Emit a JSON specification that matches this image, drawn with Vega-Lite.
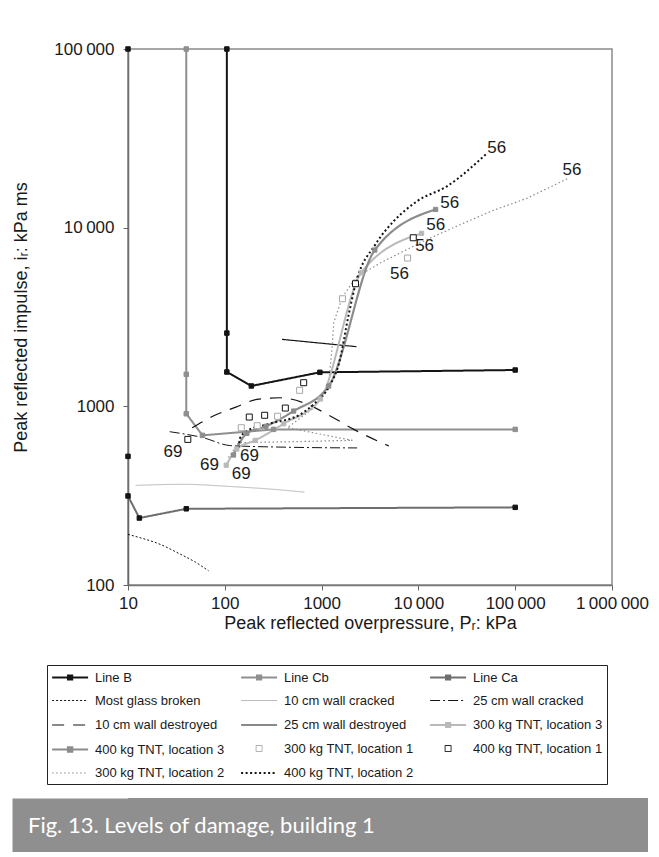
{
  "$schema": "https://vega.github.io/schema/vega-lite/v6.json",
  "background": "white",
  "padding": {"left": -15, "top": 39, "right": 0, "bottom": 0},
  "spacing": 165,
  "config": {"view": {"stroke": null}, "font": "Liberation Sans"},
  "params": [
    {"name": "lgDom", "value": ["Line B","Line Cb","Line Ca","Most glass broken","10 cm wall cracked","25 cm wall cracked","10 cm wall destroyed","25 cm wall destroyed","300 kg TNT, location 3","400 kg TNT, location 3","300 kg TNT, location 1","400 kg TNT, location 1","300 kg TNT, location 2","400 kg TNT, location 2"]},
    {"name": "lgShape", "value": ["M-0.84,0H4.3M1.43,-0.3H2.03V0.3H1.43Z","M-0.84,0H4.3M1.43,-0.3H2.03V0.3H1.43Z","M-0.84,0H4.3M1.43,-0.3H2.03V0.3H1.43Z","M-0.84,0H4.3","M-0.84,0H4.3","M-0.84,0H4.3","M-0.84,0H4.3","M-0.84,0H4.3","M-0.84,0H4.3M1.43,-0.3H2.03V0.3H1.43Z","M-0.84,0H4.3M1.43,-0.3H2.03V0.3H1.43Z","M1.3,-0.43H2.16V0.43H1.3Z","M1.3,-0.43H2.16V0.43H1.3Z","M-0.84,0H4.3","M-0.84,0H4.3"]},
    {"name": "lgFill", "value": ["#141414","#8f8f8f","#141414","transparent","transparent","transparent","transparent","transparent","#b9b9b9","#8c8c8c","white","white","transparent","transparent"]},
    {"name": "lgStroke", "value": ["#141414","#8f8f8f","#6e6e6e","#141414","#b5b5b5","#141414","#141414","#141414","#b9b9b9","#8c8c8c","#aaaaaa","#141414","#8a8a8a","#141414"]},
    {"name": "lgDash", "value": [[1,0],[1,0],[1,0],[2,2],[1,0],[13,3,2,3],[11,13],[1,0],[1,0],[1,0],[1,0],[1,0],[1.5,3],[2,2.5]]},
    {"name": "lgWidth", "value": [2,2,2,1,1,1,1.2,1.5,2,2,1,1,1,1.2]}
  ],
  "vconcat": [
    {
      "width": 484,
      "height": 536,
      "view": {"stroke": "#8a8a8a", "strokeWidth": 1.5},
      "data": {"values": [
        {"series":"Line B","seq":1,"x":105,"y":100000},
        {"series":"Line B","seq":2,"x":105,"y":2570},
        {"series":"Line B","seq":3,"x":105,"y":1556},
        {"series":"Line B","seq":4,"x":188,"y":1300},
        {"series":"Line B","seq":5,"x":960,"y":1550},
        {"series":"Line B","seq":6,"x":100000,"y":1597},
        {"series":"Line Cb","seq":1,"x":40,"y":100000},
        {"series":"Line Cb","seq":2,"x":40,"y":1511},
        {"series":"Line Cb","seq":3,"x":40,"y":909},
        {"series":"Line Cb","seq":4,"x":58.8,"y":688},
        {"series":"Line Cb","seq":5,"x":319,"y":743},
        {"series":"Line Cb","seq":6,"x":100000,"y":743},
        {"series":"Line Ca","seq":1,"x":10,"y":100000},
        {"series":"Line Ca","seq":2,"x":10,"y":525},
        {"series":"Line Ca","seq":3,"x":10,"y":315},
        {"series":"Line Ca","seq":4,"x":13.1,"y":237},
        {"series":"Line Ca","seq":5,"x":40,"y":267},
        {"series":"Line Ca","seq":6,"x":100000,"y":272},
        {"series":"Most glass broken","seq":1,"x":10,"y":192},
        {"series":"Most glass broken","seq":2,"x":13.3,"y":184},
        {"series":"Most glass broken","seq":3,"x":21.4,"y":169},
        {"series":"Most glass broken","seq":4,"x":34.5,"y":149},
        {"series":"Most glass broken","seq":5,"x":50,"y":134},
        {"series":"Most glass broken","seq":6,"x":68,"y":120},
        {"series":"10 cm wall cracked","seq":1,"x":12,"y":361},
        {"series":"10 cm wall cracked","seq":2,"x":37,"y":366},
        {"series":"10 cm wall cracked","seq":3,"x":123,"y":355},
        {"series":"10 cm wall cracked","seq":4,"x":300,"y":344},
        {"series":"10 cm wall cracked","seq":5,"x":664,"y":331},
        {"series":"25 cm wall cracked","seq":1,"x":27,"y":721},
        {"series":"25 cm wall cracked","seq":2,"x":60,"y":667},
        {"series":"25 cm wall cracked","seq":3,"x":114,"y":603},
        {"series":"25 cm wall cracked","seq":4,"x":400,"y":591},
        {"series":"25 cm wall cracked","seq":5,"x":2330,"y":585},
        {"series":"10 cm wall destroyed","seq":1,"x":46,"y":759},
        {"series":"10 cm wall destroyed","seq":2,"x":76,"y":883},
        {"series":"10 cm wall destroyed","seq":3,"x":130,"y":990},
        {"series":"10 cm wall destroyed","seq":4,"x":215,"y":1094},
        {"series":"10 cm wall destroyed","seq":5,"x":374,"y":1117},
        {"series":"10 cm wall destroyed","seq":6,"x":653,"y":1047},
        {"series":"10 cm wall destroyed","seq":7,"x":1200,"y":890},
        {"series":"10 cm wall destroyed","seq":8,"x":2150,"y":743},
        {"series":"10 cm wall destroyed","seq":9,"x":4950,"y":600},
        {"series":"25 cm wall destroyed","seq":1,"x":390,"y":2371},
        {"series":"25 cm wall destroyed","seq":2,"x":2290,"y":2157},
        {"series":"300 kg TNT, location 3","seq":1,"x":103.4,"y":468},
        {"series":"300 kg TNT, location 3","seq":2,"x":133,"y":577},
        {"series":"300 kg TNT, location 3","seq":3,"x":206,"y":645},
        {"series":"300 kg TNT, location 3","seq":4,"x":405,"y":799},
        {"series":"300 kg TNT, location 3","seq":5,"x":972,"y":1099},
        {"series":"300 kg TNT, location 3","seq":6,"x":2565,"y":5595},
        {"series":"300 kg TNT, location 3","seq":7,"x":10790,"y":9290},
        {"series":"400 kg TNT, location 3","seq":1,"x":123,"y":534},
        {"series":"400 kg TNT, location 3","seq":2,"x":169,"y":706},
        {"series":"400 kg TNT, location 3","seq":3,"x":266,"y":773},
        {"series":"400 kg TNT, location 3","seq":4,"x":514,"y":941},
        {"series":"400 kg TNT, location 3","seq":5,"x":1184,"y":1299},
        {"series":"400 kg TNT, location 3","seq":6,"x":3545,"y":7495},
        {"series":"400 kg TNT, location 3","seq":7,"x":15070,"y":12650},
        {"series":"300 kg TNT, location 1","seq":1,"x":148,"y":759},
        {"series":"300 kg TNT, location 1","seq":2,"x":216,"y":779},
        {"series":"300 kg TNT, location 1","seq":3,"x":351,"y":880},
        {"series":"300 kg TNT, location 1","seq":4,"x":593,"y":1229},
        {"series":"300 kg TNT, location 1","seq":5,"x":1642,"y":4000},
        {"series":"300 kg TNT, location 1","seq":6,"x":7730,"y":6760},
        {"series":"400 kg TNT, location 1","seq":1,"x":41.5,"y":653},
        {"series":"400 kg TNT, location 1","seq":2,"x":179,"y":871},
        {"series":"400 kg TNT, location 1","seq":3,"x":258,"y":891},
        {"series":"400 kg TNT, location 1","seq":4,"x":422,"y":978},
        {"series":"400 kg TNT, location 1","seq":5,"x":653,"y":1356},
        {"series":"400 kg TNT, location 1","seq":6,"x":2239,"y":4855},
        {"series":"400 kg TNT, location 1","seq":7,"x":8850,"y":8780},
        {"series":"300 kg TNT, location 2","seq":1,"x":109.2,"y":516},
        {"series":"300 kg TNT, location 2","seq":2,"x":138.6,"y":626},
        {"series":"300 kg TNT, location 2","seq":3,"x":514,"y":634},
        {"series":"300 kg TNT, location 2","seq":4,"x":2084,"y":645},
        {"series":"300 kg TNT, location 2","seq":5,"x":443,"y":759},
        {"series":"300 kg TNT, location 2","seq":6,"x":803,"y":966},
        {"series":"300 kg TNT, location 2","seq":7,"x":1175,"y":1300},
        {"series":"300 kg TNT, location 2","seq":8,"x":1284,"y":2128},
        {"series":"300 kg TNT, location 2","seq":9,"x":1334,"y":2937},
        {"series":"300 kg TNT, location 2","seq":10,"x":1630,"y":4053},
        {"series":"300 kg TNT, location 2","seq":11,"x":2239,"y":5245},
        {"series":"300 kg TNT, location 2","seq":12,"x":4064,"y":6364},
        {"series":"300 kg TNT, location 2","seq":13,"x":7079,"y":7396},
        {"series":"300 kg TNT, location 2","seq":14,"x":12360,"y":8602},
        {"series":"300 kg TNT, location 2","seq":15,"x":27350,"y":10430},
        {"series":"300 kg TNT, location 2","seq":16,"x":59570,"y":12500},
        {"series":"300 kg TNT, location 2","seq":17,"x":131800,"y":14590},
        {"series":"300 kg TNT, location 2","seq":18,"x":361400,"y":19020},
        {"series":"400 kg TNT, location 2","seq":1,"x":138.6,"y":587},
        {"series":"400 kg TNT, location 2","seq":2,"x":144.3,"y":667},
        {"series":"400 kg TNT, location 2","seq":3,"x":169,"y":727},
        {"series":"400 kg TNT, location 2","seq":4,"x":273,"y":793},
        {"series":"400 kg TNT, location 2","seq":5,"x":604,"y":902},
        {"series":"400 kg TNT, location 2","seq":6,"x":828,"y":1026},
        {"series":"400 kg TNT, location 2","seq":7,"x":1233,"y":1328},
        {"series":"400 kg TNT, location 2","seq":8,"x":1503,"y":1718},
        {"series":"400 kg TNT, location 2","seq":9,"x":1908,"y":3272},
        {"series":"400 kg TNT, location 2","seq":10,"x":2239,"y":4816},
        {"series":"400 kg TNT, location 2","seq":11,"x":3605,"y":8066},
        {"series":"400 kg TNT, location 2","seq":12,"x":5575,"y":10890},
        {"series":"400 kg TNT, location 2","seq":13,"x":9750,"y":14090},
        {"series":"400 kg TNT, location 2","seq":14,"x":19910,"y":17100},
        {"series":"400 kg TNT, location 2","seq":15,"x":49640,"y":25710}
      ]},
      "layer": [
        {
          "transform": [{"filter": {"field": "series", "oneOf": ["Line B","Line Cb","Line Ca","25 cm wall destroyed","300 kg TNT, location 2"]}}],
          "mark": {"type": "line", "clip": true},
          "encoding": {
            "x": {"field": "x", "type": "quantitative",
              "scale": {"type": "log", "domain": [10, 1000000]},
              "axis": {"title": "Peak reflected overpressure, Pᵣ: kPa", "values": [10,100,1000,10000,100000,1000000],
                "labelExpr": "datum.value >= 1000000 ? '1\u2009000\u2009000' : datum.value >= 100000 ? '100\u2009000' : datum.value >= 10000 ? '10\u2009000' : format(datum.value, 'd')",
                "grid": false, "tickSize": 5, "tickColor": "#666", "domainColor": "#777", "domainWidth": 1.5,
                "labelFontSize": 17, "labelColor": "#1a1a1a", "labelPadding": 5, "labelFlush": false, "labelOverlap": false,
                "titleFontSize": 18, "titleFontWeight": "normal", "titleColor": "#1a1a1a", "titlePadding": 3}},
            "y": {"field": "y", "type": "quantitative",
              "scale": {"type": "log", "domain": [100, 100000]},
              "axis": {"title": "Peak reflected impulse, iᵣ: kPa ms", "values": [100,1000,10000,100000],
                "labelExpr": "datum.value >= 100000 ? '100\u2009000' : datum.value >= 10000 ? '10\u2009000' : format(datum.value, 'd')",
                "grid": false, "tickSize": 5, "tickColor": "#666", "domainColor": "#666", "domainWidth": 1.5,
                "labelFontSize": 17, "labelColor": "#1a1a1a", "labelPadding": 9, "labelFlush": false, "labelOverlap": false,
                "titleFontSize": 18, "titleFontWeight": "normal", "titleColor": "#1a1a1a", "titlePadding": 23}},
            "order": {"field": "seq", "type": "quantitative"},
            "color": {"field": "series", "type": "nominal",
              "scale": {"domain": ["Line B","Line Cb","Line Ca","Most glass broken","10 cm wall cracked","25 cm wall cracked","10 cm wall destroyed","25 cm wall destroyed","300 kg TNT, location 3","400 kg TNT, location 3","300 kg TNT, location 1","400 kg TNT, location 1","300 kg TNT, location 2","400 kg TNT, location 2"],
                "range": ["#141414","#8f8f8f","#6e6e6e","#141414","#b5b5b5","#141414","#141414","#141414","#b9b9b9","#8c8c8c","#aaaaaa","#141414","#8a8a8a","#141414"]},
              "legend": {"title": null, "orient": "none", "legendX": -81, "legendY": 616, "columns": 3, "direction": "horizontal", "gridAlign": "all",
                "symbolSize": 196, "labelOffset": 30, "rowPadding": 8, "columnPadding": 12, "padding": 4,
                "strokeColor": "#222", "labelFontSize": 13, "labelColor": "#1a1a1a", "labelLimit": 300,
                "encode": {
                  "symbols": {"update": {
                    "x": {"value": 7},
                    "size": {"value": 196},
                    "shape": {"signal": "lgShape[indexof(lgDom, datum.value)]"},
                    "fill": {"signal": "lgFill[indexof(lgDom, datum.value)]"},
                    "stroke": {"signal": "lgStroke[indexof(lgDom, datum.value)]"},
                    "strokeDash": {"signal": "lgDash[indexof(lgDom, datum.value)]"},
                    "strokeWidth": {"signal": "lgWidth[indexof(lgDom, datum.value)]"},
                    "opacity": {"value": 1}}},
                  "labels": {"update": {"x": {"value": 44}}}}}},
            "strokeDash": {"field": "series", "type": "nominal",
              "scale": {"domain": ["Line B","Line Cb","Line Ca","Most glass broken","10 cm wall cracked","25 cm wall cracked","10 cm wall destroyed","25 cm wall destroyed","300 kg TNT, location 3","400 kg TNT, location 3","300 kg TNT, location 1","400 kg TNT, location 1","300 kg TNT, location 2","400 kg TNT, location 2"],
                "range": [[1,0],[1,0],[1,0],[2,2],[1,0],[10,3,2,3],[12,9],[1,0],[1,0],[1,0],[1,0],[1,0],[1.5,2.5],[2,2.5]]},
              "legend": null},
            "strokeWidth": {"field": "series", "type": "nominal",
              "scale": {"type": "ordinal", "domain": ["Line B","Line Cb","Line Ca","Most glass broken","10 cm wall cracked","25 cm wall cracked","10 cm wall destroyed","25 cm wall destroyed","300 kg TNT, location 3","400 kg TNT, location 3","300 kg TNT, location 1","400 kg TNT, location 1","300 kg TNT, location 2","400 kg TNT, location 2"],
                "range": [2,2,2,1,1,1,1.2,1.2,2,2.2,1,1,1.2,2]},
              "legend": null}
          }
        },
        {
          "transform": [{"filter": {"field": "series", "oneOf": ["Most glass broken","10 cm wall cracked","25 cm wall cracked","10 cm wall destroyed","300 kg TNT, location 3","400 kg TNT, location 3","400 kg TNT, location 2"]}}],
          "mark": {"type": "line", "clip": true, "interpolate": "monotone"},
          "encoding": {
            "x": {"field": "x", "type": "quantitative"},
            "y": {"field": "y", "type": "quantitative"},
            "order": {"field": "seq", "type": "quantitative"},
            "color": {"field": "series", "type": "nominal",
              "scale": {"domain": ["Line B","Line Cb","Line Ca","Most glass broken","10 cm wall cracked","25 cm wall cracked","10 cm wall destroyed","25 cm wall destroyed","300 kg TNT, location 3","400 kg TNT, location 3","300 kg TNT, location 1","400 kg TNT, location 1","300 kg TNT, location 2","400 kg TNT, location 2"],
                "range": ["#141414","#8f8f8f","#6e6e6e","#141414","#b5b5b5","#141414","#141414","#141414","#b9b9b9","#8c8c8c","#aaaaaa","#141414","#8a8a8a","#141414"]}},
            "strokeDash": {"field": "series", "type": "nominal",
              "scale": {"domain": ["Line B","Line Cb","Line Ca","Most glass broken","10 cm wall cracked","25 cm wall cracked","10 cm wall destroyed","25 cm wall destroyed","300 kg TNT, location 3","400 kg TNT, location 3","300 kg TNT, location 1","400 kg TNT, location 1","300 kg TNT, location 2","400 kg TNT, location 2"],
                "range": [[1,0],[1,0],[1,0],[2,2],[1,0],[10,3,2,3],[12,9],[1,0],[1,0],[1,0],[1,0],[1,0],[1.5,2.5],[2,2.5]]},
              "legend": null},
            "strokeWidth": {"field": "series", "type": "nominal",
              "scale": {"type": "ordinal", "domain": ["Line B","Line Cb","Line Ca","Most glass broken","10 cm wall cracked","25 cm wall cracked","10 cm wall destroyed","25 cm wall destroyed","300 kg TNT, location 3","400 kg TNT, location 3","300 kg TNT, location 1","400 kg TNT, location 1","300 kg TNT, location 2","400 kg TNT, location 2"],
                "range": [2,2,2,1,1,1,1.2,1.2,2,2.2,1,1,1.2,2]},
              "legend": null}
          }
        },
        {
          "transform": [{"filter": {"field": "series", "oneOf": ["Line B","Line Cb","Line Ca","300 kg TNT, location 3","400 kg TNT, location 3","300 kg TNT, location 1","400 kg TNT, location 1"]}}],
          "mark": {"type": "square", "strokeWidth": 1, "opacity": 1, "clip": false},
          "encoding": {
            "x": {"field": "x", "type": "quantitative"},
            "y": {"field": "y", "type": "quantitative"},
            "fill": {"field": "series", "type": "nominal",
              "scale": {"domain": ["Line B","Line Cb","Line Ca","300 kg TNT, location 3","400 kg TNT, location 3","300 kg TNT, location 1","400 kg TNT, location 1"],
                "range": ["#141414","#8f8f8f","#141414","#b9b9b9","#8c8c8c","#ffffff","#ffffff"]}, "legend": null},
            "stroke": {"field": "series", "type": "nominal",
              "scale": {"domain": ["Line B","Line Cb","Line Ca","300 kg TNT, location 3","400 kg TNT, location 3","300 kg TNT, location 1","400 kg TNT, location 1"],
                "range": ["#141414","#8f8f8f","#141414","#b9b9b9","#8c8c8c","#a8a8a8","#141414"]}, "legend": null},
            "size": {"field": "series", "type": "nominal",
              "scale": {"type": "ordinal", "domain": ["Line B","Line Cb","Line Ca","300 kg TNT, location 3","400 kg TNT, location 3","300 kg TNT, location 1","400 kg TNT, location 1"],
                "range": [20,20,20,18,18,36,36]}, "legend": null}
          }
        },
        {
          "data": {"values": [
            {"label": "56", "x": 64500, "y": 28000},
            {"label": "56", "x": 385500, "y": 21000},
            {"label": "56", "x": 21040, "y": 13780},
            {"label": "56", "x": 15070, "y": 10350},
            {"label": "56", "x": 11590, "y": 7890},
            {"label": "56", "x": 6390, "y": 5500},
            {"label": "69", "x": 29.2, "y": 555},
            {"label": "69", "x": 69.5, "y": 468},
            {"label": "69", "x": 180, "y": 527},
            {"label": "69", "x": 148, "y": 416}
          ]},
          "mark": {"type": "text", "fontSize": 17, "color": "#1a1a1a", "align": "center", "baseline": "middle"},
          "encoding": {
            "x": {"field": "x", "type": "quantitative"},
            "y": {"field": "y", "type": "quantitative"},
            "text": {"field": "label", "type": "nominal"}
          }
        }
      ]
    },
    {
      "width": 520,
      "height": 54,
      "view": {"fill": "#8f8f8f", "stroke": null},
      "data": {"values": [{"caption": "Fig. 13. Levels of damage, building 1"}]},
      "mark": {"type": "point", "opacity": 0},
      "encoding": {
        "y": {"datum": 1, "type": "quantitative",
          "scale": {"domain": [0, 2], "nice": false, "zero": false},
          "axis": {"values": [1], "labels": false, "domain": false, "grid": false, "title": null,
            "ticks": true, "tickSize": 116, "tickWidth": 54, "tickColor": "#8f8f8f", "tickRound": false}}
      },
      "title": {"text": "Fig. 13. Levels of damage, building 1", "orient": "top", "anchor": "start", "frame": "group",
        "offset": -57, "dx": -100, "baseline": "alphabetic", "color": "#ffffff", "font": "Lato", "fontSize": 22, "fontWeight": "normal"}
    }
  ]
}
